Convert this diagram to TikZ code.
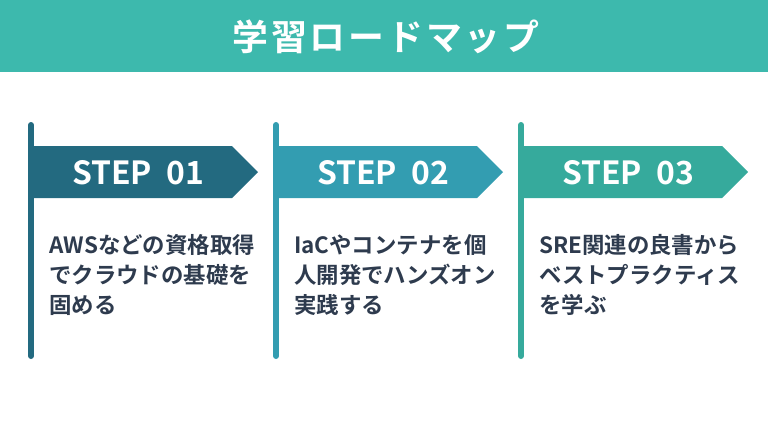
\documentclass[tikz,border=0pt]{standalone}
\usepackage{fontspec}
\setmainfont{Noto Sans CJK JP}[BoldFont={Noto Sans CJK JP Bold}]
\usepackage{tikz}
\definecolor{headteal}{HTML}{3DB9AD}
\definecolor{stepone}{HTML}{236A80}
\definecolor{steptwo}{HTML}{339DB1}
\definecolor{stepthree}{HTML}{36AA9C}
\definecolor{bodyink}{HTML}{2E3B4E}

\begin{document}
\begin{tikzpicture}[x=1bp, y=-1bp,
  steplabel/.style={text=white, font=\bfseries\fontsize{32}{32}\selectfont, inner sep=0pt},
  bodytext/.style={text=bodyink, font=\bfseries\fontsize{22.5}{30}\selectfont, align=left, anchor=base west, inner sep=0pt}]
\useasboundingbox (0,0) rectangle (768,432);
% Header band
\fill[headteal] (0,0) rectangle (768,72);
\node[text=white, font=\bfseries\fontsize{36}{36}\selectfont\addfontfeature{LetterSpace=8}] (title) at (386,37) {学習ロードマップ};
% Flags with poles
\foreach \i/\c/\txt [count=\k from 0] in {
  01/stepone/{AWSなどの資格取得\\でクラウドの基礎を\\固める},
  02/steptwo/{IaCやコンテナを個\\人開発でハンズオン\\実践する},
  03/stepthree/{SRE関連の良書から\\ベストプラクティス\\を学ぶ}}
{
  \pgfmathsetmacro\xo{31+245*\k}
  \draw[\c, line width=6bp, line cap=round] (\xo,125) -- (\xo,356);
  \fill[\c] (\xo+3,146) -- (\xo+201,146) -- (\xo+227,172) -- (\xo+201,198) -- (\xo+3,198) -- cycle;
  \node[steplabel] (step\i) at (\xo+107,173) {STEP\hspace{0.45em}\i};
  % text node: base is the last line
  \node[bodytext] (desc\i) at (\xo+18,313) {\txt};
}
\end{tikzpicture}
\end{document}
